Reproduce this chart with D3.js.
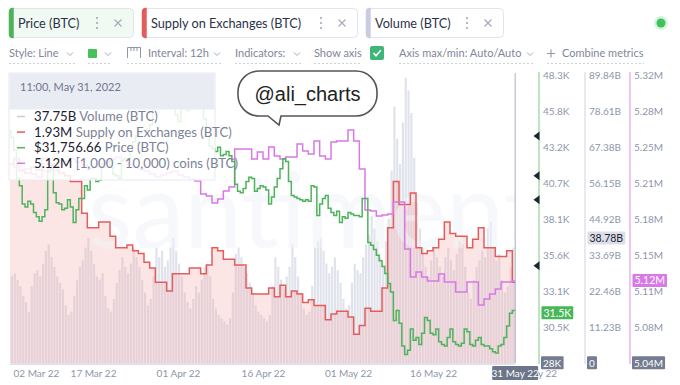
<!DOCTYPE html>
<html>
<head>
<meta charset="utf-8">
<script src="https://cdn.jsdelivr.net/npm/d3@7"></script>
<style>
  body { margin: 0; background: #fff; }
  svg { display: block; font-family: Lato, "Open Sans", sans-serif; }
</style>
</head>
<body>
<svg id="chart" width="680" height="385"></svg>
<script>
// ---- data (12h interval for price / volume, daily for supply / holders) ----
const startDate = Date.UTC(2022, 2, 2);
const H12 = 12 * 3600e3, DAY = 24 * 3600e3;

// Price (BTC), thousands of USD, every 12h from 02 Mar 22
const price = [
  44.4,43.9, 43.0,41.0, 40.5,39.2, 39.0,39.4, 39.2,38.6,
  38.3,38.0, 38.3,38.8, 41.5,41.9, 40.0,39.3, 39.2,38.8,
  38.9,39.5, 39.0,37.9, 38.8,39.6, 39.6,40.5, 40.2,41.0,
  41.0,40.8, 40.9,41.8, 42.1,42.2, 41.8,41.3, 41.2,41.0,
  42.3,42.4, 42.4,42.9, 43.6,44.0, 44.2,44.3, 44.4,44.5,
  44.8,46.8, 47.2,47.1, 47.6,47.4, 47.2,47.1, 46.6,45.5,
  45.0,46.3, 46.6,45.8, 46.0,46.4, 46.3,46.6, 46.4,45.2,
  44.0,43.3, 43.1,42.9, 43.2,42.6, 42.7,42.9, 42.6,42.2,
  40.6,40.1, 40.0,40.3, 40.8,41.1, 41.0,40.1, 40.3,40.5,
  40.4,40.2, 39.2,39.7, 40.4,41.0, 41.7,42.4, 42.2,40.8,
  39.8,39.7, 39.6,39.5, 39.4,39.5, 39.4,40.5, 40.4,38.4,
  39.2,39.6, 39.8,38.9, 38.6,38.4, 38.7,37.9, 38.3,38.2,
  38.6,38.5, 38.4,38.4, 38.3,39.6, 39.6,36.5, 36.3,36.0,
  35.6,35.2, 34.8,34.3, 33.6,33.0, 31.0,31.7, 30.8,29.2,
  28.6,28.9, 30.4,29.6, 29.8,29.3, 30.1,31.2, 31.0,30.1,
  30.0,30.4, 29.5,29.3, 29.2,29.8, 30.4,29.5, 29.3,29.2,
  29.4,30.4, 30.2,29.3, 29.2,29.6, 29.8,29.3, 29.2,29.2,
  29.0,28.8, 28.7,29.2, 29.3,29.8, 30.6,31.5, 31.7,31.76
];

// Volume (BTC), billions, every 12h
const volume = [
  28,27, 28,26, 24,21, 19,16, 24,28,
  29,27, 31,35, 37,33, 30,27, 25,23,
  18,15, 16,21, 26,30, 32,36, 39,35,
  31,27, 26,28, 21,17, 16,20, 25,29,
  33,30, 28,31, 36,33, 30,26, 22,18,
  20,27, 36,33, 35,30, 32,36, 39,35,
  31,27, 22,19, 17,20, 24,22, 26,30,
  31,27, 20,17, 15,14, 13,12, 14,22,
  34,36, 33,30, 28,25, 22,18, 16,15,
  14,13, 15,24, 33,30, 26,23, 27,30,
  37,33, 27,22, 17,15, 16,24, 36,38,
  39,35, 31,28, 30,33, 29,25, 20,17,
  18,25, 31,29, 28,33, 37,40, 46,42,
  38,33, 30,38, 45,60, 80,70, 62,75,
  89,85, 78,64, 50,42, 36,30, 27,32,
  36,33, 30,27, 33,36, 32,29, 34,38,
  37,30, 22,20, 26,30, 32,35, 33,42,
  44,36, 32,34, 26,22, 24,30, 36,37.75
];

// Supply on Exchanges (BTC), millions, daily
const supply = [
  1.969,1.971,1.967,1.966,1.968,1.967,1.971,1.969,1.967,1.966,
  1.965,1.963,1.963,1.952,1.947,1.947,1.949,1.949,1.944,1.940,
  1.940,1.941,1.939,1.938,1.935,1.933,1.928,1.928,1.925,1.931,
  1.931,1.931,1.933,1.933,1.931,1.934,1.940,1.939,1.936,1.936,
  1.934,1.934,1.926,1.924,1.924,1.924,1.926,1.923,1.927,1.923,
  1.925,1.924,1.921,1.922,1.920,1.920,1.915,1.917,1.918,1.918,
  1.916,1.910,1.913,1.919,1.918,1.918,1.926,1.947,1.963,1.955,
  1.955,1.959,1.940,1.938,1.939,1.940,1.943,1.949,1.945,1.944,
  1.944,1.940,1.943,1.947,1.940,1.940,1.937,1.937,1.939,1.928
];

// [1,000 - 10,000) coins holders (BTC), millions, daily
const holders = [
  5.2334,5.2305,5.2266,5.2286,5.2237,5.2208,5.2266,5.2286,5.2305,5.2334,
  5.2363,5.2383,5.2354,5.2325,5.2286,5.2305,5.2334,5.2363,5.2383,5.2402,
  5.2363,5.2334,5.2305,5.2286,5.2266,5.2237,5.2208,5.2227,5.2247,5.2266,
  5.2227,5.2208,5.2188,5.2169,5.2043,5.2023,5.1955,5.1994,5.2072,5.2111,
  5.2480,5.2480,5.2480,5.2383,5.2451,5.2383,5.2500,5.2412,5.2383,5.2402,
  5.2402,5.2529,5.2461,5.2431,5.2558,5.2412,5.2383,5.2548,5.2558,5.2558,
  5.2665,5.2558,5.2286,5.1887,5.1877,5.1829,5.1839,5.1848,5.1965,5.1965,
  5.1508,5.1236,5.1285,5.1236,5.1197,5.1197,5.1265,5.1187,5.1187,5.1090,
  5.1090,5.1187,5.1187,5.0964,5.1022,5.1071,5.1119,5.1187,5.1187,5.1197
];

// axis ticks
const priceTicks = [28, 30.5375, 33.075, 35.6125, 38.15, 40.6875, 43.225, 45.7625, 48.3];
const priceTickLabels = ["28K","30.5K","33.1K","35.6K","38.1K","40.7K","43.2K","45.8K","48.3K"];
const volumeTicks = [0, 11.23, 22.46, 33.69, 44.92, 56.15, 67.38, 78.61, 89.84];
const volumeTickLabels = ["0","11.23B","22.46B","33.69B","44.92B","56.15B","67.38B","78.61B","89.84B"];
const holderTicks = [5.04, 5.075, 5.11, 5.145, 5.18, 5.215, 5.25, 5.285, 5.32];
const holderTickLabels = ["5.04M","5.08M","5.11M","5.15M","5.18M","5.21M","5.25M","5.28M","5.32M"];
const dateTicks = [[2022,2,2],[2022,2,17],[2022,3,1],[2022,3,16],[2022,4,1],[2022,4,16],[2022,4,31]];
const alertPrices = [44.0, 41.2, 39.5, 34.85];

// tooltip rows
const tooltipTitle = "11:00, May 31, 2022";
const tooltipRows = [
  { color: "#c9cddd", value: "37.75B", label: "Volume (BTC)" },
  { color: "#e35d5d", value: "1.93M", label: "Supply on Exchanges (BTC)" },
  { color: "#4fb35b", value: "$31,756.66", label: "Price (BTC)" },
  { color: "#d878e6", value: "5.12M", label: "[1,000 - 10,000) coins (BTC)" }
];
const lastValueBoxes = { price: [31.5, "31.5K"], volume: [38.78, "38.78B"], holders: [5.1197, "5.12M"] };

// ---- colours ----
const C = {
  green: "#4fb35b", red: "#e35d5d", pink: "#d878e6", vol: "#c9cddd",
  text: "#2b3147", muted: "#8e96ab", bar: "#7f869b"
};

const svg = d3.select("#chart");
svg.append("rect").attr("width", 680).attr("height", 385).attr("fill", "#fff");

// ---- scales ----
const x = d3.scaleUtc()
  .domain([new Date(startDate), new Date(Date.UTC(2022, 4, 31))])
  .range([8, 518]);
const yTop = 75, yBottom = 363;
const yPrice = d3.scaleLinear().domain([28, 48.3]).range([yBottom, yTop]);
const yVol = d3.scaleLinear().domain([0, 89.84]).range([yBottom, yTop]);
const ySupply = d3.scaleLinear().domain([1.90, 2.00]).range([yBottom, yTop]);
const yHold = d3.scaleLinear().domain([5.04, 5.32]).range([yBottom, yTop]);

const endTime = new Date(startDate + (price.length - 1) * H12);
const cursorX = x(endTime);

const halfDay = (arr) => arr.map((v, i) => ({ t: new Date(startDate + i * H12), v }));
const daily = (arr) => {
  const pts = arr.map((v, i) => ({ t: new Date(startDate + i * DAY), v }));
  pts.push({ t: endTime, v: arr[arr.length - 1] });
  return pts;
};

const priceData = halfDay(price);
const volumeData = halfDay(volume);
const supplyData = daily(supply);
const holderData = daily(holders);

svg.append("defs").append("clipPath").attr("id", "plot-clip")
  .append("rect").attr("x", 10).attr("y", 60).attr("width", cursorX - 10 + 0.5).attr("height", yBottom - 60 + 1);

const plot = svg.append("g").attr("clip-path", "url(#plot-clip)");

// volume histogram
plot.append("g").selectAll("rect").data(volumeData).join("rect")
  .attr("x", d => x(d.t))
  .attr("width", d => x(new Date(+d.t + H12)) - x(d.t) - 0.7)
  .attr("y", d => yVol(d.v))
  .attr("height", d => yBottom - yVol(d.v))
  .attr("fill", "#c3c7da")
  .attr("fill-opacity", 0.5);

// supply area
plot.append("path").datum(supplyData)
  .attr("d", d3.area().x(d => x(d.t)).y0(yBottom).y1(d => ySupply(d.v)).curve(d3.curveStepAfter))
  .attr("fill", "#f39c98").attr("fill-opacity", 0.25);

// watermark
plot.append("text")
  .attr("x", 314).attr("y", 248)
  .attr("text-anchor", "middle")
  .style("font-size", "104px")
  .attr("fill", "#f0f2f8").attr("fill-opacity", 0.55)
  .text("santiment");

const stepLine = (yScale) => d3.line().x(d => x(d.t)).y(d => yScale(d.v)).curve(d3.curveStepAfter);

plot.append("path").datum(supplyData).attr("d", stepLine(ySupply))
  .attr("fill", "none").attr("stroke", C.red).attr("stroke-width", 1.5);
plot.append("path").datum(holderData).attr("d", stepLine(yHold))
  .attr("fill", "none").attr("stroke", C.pink).attr("stroke-width", 1.5);
plot.append("path").datum(priceData).attr("d", stepLine(yPrice))
  .attr("fill", "none").attr("stroke", C.green).attr("stroke-width", 1.5);

// cursor line
svg.append("line").attr("x1", cursorX).attr("x2", cursorX).attr("y1", 73).attr("y2", yBottom)
  .attr("stroke", "#aab0c1").attr("stroke-width", 1);

// ---- bottom axis ----
svg.append("line").attr("x1", 10).attr("x2", cursorX).attr("y1", yBottom + 1).attr("y2", yBottom + 1)
  .attr("stroke", "#d5d9e3").attr("stroke-width", 1.5);

const xAxis = svg.append("g").attr("transform", `translate(0,${yBottom + 1})`)
  .call(d3.axisBottom(x)
    .tickValues(dateTicks.map(d => new Date(Date.UTC(...d))))
    .tickFormat(d3.utcFormat("%d %b %y"))
    .tickSize(0).tickPadding(5.5));
xAxis.select(".domain").remove();
xAxis.selectAll("text").style("font-size", "10px").attr("fill", C.muted).style("font-family", "Lato, sans-serif");
xAxis.selectAll(".tick").filter((d, i) => i === 0).select("text")
  .attr("text-anchor", "start").attr("x", 13 - x(new Date(startDate)));
xAxis.selectAll(".tick").filter((d, i) => i === dateTicks.length - 1).select("text").attr("x", 15);

// cursor date box
const dateBox = svg.append("g");
dateBox.append("rect").attr("x", cursorX - 23).attr("y", 366).attr("width", 46).attr("height", 14)
  .attr("fill", "#6c7589").attr("rx", 1);
dateBox.append("text").attr("x", cursorX).attr("y", 376.5).attr("text-anchor", "middle")
  .style("font-size", "10px").attr("fill", "#fff").text(d3.utcFormat("%d %b %y")(new Date(Date.UTC(2022, 4, 31))));

// ---- right axes ----
function rightAxis(xPos, scale, ticks, labels, color) {
  const g = svg.append("g").attr("transform", `translate(${xPos},0)`)
    .call(d3.axisRight(scale).tickValues(ticks).tickFormat((d, i) => labels[i]).tickSize(0).tickPadding(4.5));
  g.select(".domain").attr("stroke", color).attr("stroke-width", 1.3).attr("d", `M0.5,${yTop - 3}V${yBottom + 1}`);
  g.selectAll("text").style("font-size", "10px").attr("fill", C.muted).style("font-family", "Lato, sans-serif");
  // dark box for the minimum tick
  const first = g.selectAll(".tick").filter((d, i) => i === 0);
  const t = first.select("text").attr("fill", "#fff");
  const bb = t.node().getBBox();
  first.insert("rect", "text").attr("x", bb.x - 2).attr("y", bb.y - 0.5)
    .attr("width", bb.width + 4).attr("height", bb.height + 1).attr("fill", "#737c90").attr("rx", 1);
  return g;
}
rightAxis(538.5, yPrice, priceTicks, priceTickLabels, "#9bd6a2");
rightAxis(584.5, yVol, volumeTicks, volumeTickLabels, "#dcdee8");
rightAxis(629.5, yHold, holderTicks, holderTickLabels, "#e7a6ef");

function valueBox(xPos, yPos, label, bg, fg) {
  const g = svg.append("g");
  const t = g.append("text").attr("x", xPos + 2).attr("y", yPos).attr("dy", "0.32em")
    .style("font-size", "10.5px").attr("fill", fg).text(label);
  const bb = t.node().getBBox();
  g.insert("rect", "text").attr("x", bb.x - 2).attr("y", bb.y - 0.5)
    .attr("width", bb.width + 4).attr("height", bb.height + 1).attr("fill", bg).attr("rx", 1);
}
valueBox(541.5, yPrice(lastValueBoxes.price[0]), lastValueBoxes.price[1], "#47b857", "#fff");
valueBox(587.5, yVol(lastValueBoxes.volume[0]), lastValueBoxes.volume[1], "#dcdfe8", "#1d2233");
valueBox(632.5, yHold(lastValueBoxes.holders[0]), lastValueBoxes.holders[1], "#d77ae6", "#fff");

// alert markers on the price axis
svg.append("g").selectAll("path").data(alertPrices).join("path")
  .attr("d", d => `M533.5,${yPrice(d)}L539.5,${yPrice(d) - 4.5}L539.5,${yPrice(d) + 4.5}Z`)
  .attr("fill", "#1f2433");

// ---- tooltip ----
const tip = svg.append("g");
tip.append("rect").attr("x", 9).attr("y", 73).attr("width", 206).attr("height", 107)
  .attr("fill", "#fff").attr("fill-opacity", 0.86).attr("stroke", "#e6e9f0");
tip.append("rect").attr("x", 9.5).attr("y", 73.5).attr("width", 205).attr("height", 36)
  .attr("fill", "#e8ebf2").attr("fill-opacity", 0.94);
tip.append("text").attr("x", 20).attr("y", 91).style("font-size", "11px").attr("fill", "#6f7690").text(tooltipTitle);
const rows = tip.selectAll("g.row").data(tooltipRows).join("g").attr("class", "row")
  .attr("transform", (d, i) => `translate(0,${116.5 + i * 15.6})`);
rows.append("line").attr("x1", 17).attr("x2", 25).attr("y1", 0).attr("y2", 0)
  .attr("stroke", d => d.color).attr("stroke-width", 1.5);
const rowText = rows.append("text").attr("x", 34).attr("y", 4.5).style("font-size", "13.2px");
rowText.append("tspan").attr("fill", "#1d2233").text(d => d.value);
rowText.append("tspan").attr("fill", "#7c8398").text(d => " " + d.label);

// ---- speech bubble ----
const bubble = svg.append("g");
bubble.append("path")
  .attr("d", "M259,71H356A21,21 0 0 1 377,92V95A21,21 0 0 1 356,116H281L279,125L268,116H259A21,21 0 0 1 238,95V92A21,21 0 0 1 259,71Z")
  .attr("fill", "#fff").attr("stroke", "#555").attr("stroke-width", 1.6);
bubble.append("text").attr("x", 307.5).attr("y", 101).attr("text-anchor", "middle")
  .style("font-family", "'Liberation Sans', Arial, sans-serif").style("font-size", "20px").attr("fill", "#222")
  .text("@ali_charts");

// ---- top metric tabs ----
const tabs = [
  { x: 9, w: 124, label: "Price (BTC)", color: C.green, bg: "#f1faf2" },
  { x: 142, w: 215, label: "Supply on Exchanges (BTC)", color: C.red, bg: "#fff" },
  { x: 366, w: 137, label: "Volume (BTC)", color: "#c9cddf", bg: "#fff" }
];
const tabG = svg.append("g").selectAll("g").data(tabs).join("g").attr("transform", d => `translate(${d.x},8)`);
tabG.append("rect").attr("x", 0.5).attr("y", 0.5).attr("width", d => d.w).attr("height", 29).attr("rx", 4)
  .attr("fill", d => d.bg).attr("stroke", "#e1e4ec");
tabG.append("path").attr("d", "M4,0.5H3.5A3,3 0 0 0 0.5,3.5V26.5A3,3 0 0 0 3.5,29.5H4Z")
  .attr("fill", d => d.color).attr("stroke", d => d.color).attr("stroke-width", 1.5);
tabG.append("text").attr("x", 9).attr("y", 19.5).style("font-size", "12.7px").attr("fill", C.text).text(d => d.label);
tabG.append("g").attr("transform", d => `translate(${d.w - 36},15)`).selectAll("circle").data([-5, 0, 5]).join("circle")
  .attr("cx", 0).attr("cy", d => d).attr("r", 1.1).attr("fill", "#a3a9bb");
tabG.append("path").attr("d", d => { const cx = d.w - 15, cy = 15; return `M${cx - 3.5},${cy - 3.5}L${cx + 3.5},${cy + 3.5}M${cx + 3.5},${cy - 3.5}L${cx - 3.5},${cy + 3.5}`; })
  .attr("stroke", "#a3a9bb").attr("stroke-width", 1.1);

svg.append("circle").attr("cx", 661).attr("cy", 23).attr("r", 7).attr("fill", "#d8f3de");
svg.append("circle").attr("cx", 661).attr("cy", 23).attr("r", 4.5).attr("fill", "#3fc25a");

// ---- settings row ----
const row2 = svg.append("g").style("font-size", "11px").attr("fill", C.bar);
const chevron = (cx, cy) => row2.append("path")
  .attr("d", `M${cx - 3},${cy - 1.5}L${cx},${cy + 1.5}L${cx + 3},${cy - 1.5}`)
  .attr("fill", "none").attr("stroke", "#a3a9bb").attr("stroke-width", 1);
const underline = (x1, x2) => row2.append("line").attr("x1", x1).attr("x2", x2).attr("y1", 63.5).attr("y2", 63.5)
  .attr("stroke", "#cdd1dc").attr("stroke-dasharray", "2,2");

row2.append("text").attr("x", 9).attr("y", 57).text("Style: Line");
chevron(70, 54); underline(9, 76);
row2.append("rect").attr("x", 88).attr("y", 49).attr("width", 9).attr("height", 9).attr("rx", 1).attr("fill", "#45c05a");
chevron(108, 54); underline(88, 112);
row2.append("path").attr("d", "M127.5,58V47.5H140.5V58M131,47.5V51M134,47.5V51M137,47.5V51")
  .attr("fill", "none").attr("stroke", "#8e96ab").attr("stroke-width", 1);
row2.append("text").attr("x", 148).attr("y", 57).text("Interval: 12h");
chevron(217, 54); underline(127, 222);
row2.append("text").attr("x", 235).attr("y", 57).text("Indicators:");
chevron(297, 54); underline(235, 302);
row2.append("text").attr("x", 314).attr("y", 57).text("Show axis");
underline(314, 362);
row2.append("rect").attr("x", 370).attr("y", 46).attr("width", 14).attr("height", 14).attr("rx", 2).attr("fill", "#3db677");
row2.append("path").attr("d", "M373.5,53L376,55.8L380.8,50.2").attr("fill", "none").attr("stroke", "#fff").attr("stroke-width", 1.6);
row2.append("text").attr("x", 399).attr("y", 57).text("Axis max/min: Auto/Auto");
chevron(530, 54); underline(399, 535);
row2.append("path").attr("d", "M547,53.5H555M551,49.5V57.5").attr("stroke", "#8e96ab").attr("stroke-width", 1.1);
row2.append("text").attr("x", 562).attr("y", 57).text("Combine metrics");
underline(547, 644);
</script>
</body>
</html>
